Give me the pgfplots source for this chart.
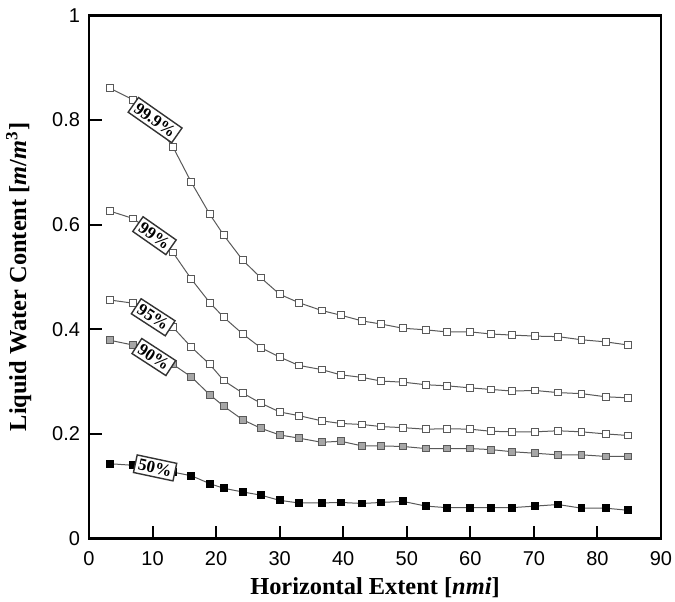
\documentclass[border=0pt]{standalone}
\usepackage{pgfplots}
\pgfplotsset{compat=1.18}
\usepackage{fontspec}
\setmainfont{Liberation Serif}
\newfontfamily\arialfont{Liberation Sans}
\tikzset{lbl/.style={draw=black!80, line width=0.7pt, fill=white, inner sep=1.6pt, font=\bfseries\fontsize{8.5}{9}\selectfont}}
\pgfplotstableread{
x     a     b     c     d     e
3.3   0.861 0.626 0.456 0.379 0.143
6.9   0.839 0.612 0.450 0.370 0.140
10.1  0.800 0.585 0.430 0.352 0.133
13.2  0.749 0.547 0.404 0.333 0.127
16.1  0.681 0.496 0.366 0.309 0.120
19.0  0.620 0.451 0.333 0.275 0.105
21.2  0.580 0.423 0.302 0.253 0.096
24.2  0.532 0.391 0.278 0.227 0.089
27.0  0.499 0.365 0.259 0.211 0.083
30.0  0.467 0.347 0.242 0.198 0.073
33.0  0.451 0.331 0.235 0.192 0.068
36.6  0.436 0.323 0.225 0.184 0.068
39.6  0.427 0.313 0.220 0.186 0.069
43.0  0.416 0.308 0.218 0.177 0.067
46.0  0.410 0.301 0.214 0.177 0.069
49.4  0.402 0.299 0.212 0.176 0.071
53.0  0.399 0.294 0.209 0.172 0.062
56.3  0.395 0.292 0.210 0.172 0.059
60.0  0.395 0.288 0.209 0.172 0.059
63.3  0.391 0.285 0.205 0.170 0.059
66.5  0.389 0.282 0.204 0.166 0.059
70.2  0.387 0.283 0.204 0.163 0.062
73.8  0.386 0.279 0.206 0.160 0.065
77.5  0.380 0.277 0.204 0.160 0.058
81.3  0.376 0.271 0.200 0.157 0.058
84.8  0.370 0.269 0.197 0.157 0.054
}\lwc
\begin{document}
\begin{tikzpicture}
\begin{axis}[
  set layers=standard,
  scale only axis,
  width=286pt, height=261.5pt,
  xmin=0, xmax=90, ymin=0, ymax=1,
  xtick={0,10,...,90},
  ytick={0,0.2,0.4,0.6,0.8,1},
  xtick pos=bottom, ytick pos=left,
  tick align=inside,
  major tick length=6.5pt,
  every tick/.style={line width=1pt, black},
  axis line style={line width=1.3pt},
  /pgf/number format/assume math mode=true,
  tick label style={font=\arialfont\fontsize{10}{12}\selectfont},
  xticklabel style={yshift=-3pt},
  yticklabel style={xshift=-1pt},
  xlabel={\textbf{Horizontal Extent [\textit{nmi}]}},
  ylabel={\textbf{Liquid Water Content [\textit{m}/\textit{m}\textsuperscript{3}]}},
  label style={font=\fontsize{12.2}{14}\selectfont},
  xlabel style={yshift=1pt},
  ylabel style={yshift=3.5pt},
  every axis plot/.append style={line width=0.5pt, black!65, mark=square*, mark size=1.7pt},
  clip=false,
]
\addplot[mark options={fill=white, draw=black!65}] table[x=x,y=a] {\lwc};
\addplot[mark options={fill=white, draw=black!65}] table[x=x,y=b] {\lwc};
\addplot[mark options={fill=white, draw=black!65}] table[x=x,y=c] {\lwc};
\addplot[mark options={fill=black!35, draw=black!65}] table[x=x,y=d] {\lwc};
\addplot[mark options={fill=black, draw=black}] table[x=x,y=e] {\lwc};
\begin{pgfonlayer}{axis foreground}
\node[lbl, rotate=-35] at (axis cs:10.4,0.800) {99.9\%};
\node[lbl, rotate=-35] at (axis cs:10.3,0.579) {99\%};
\node[lbl, rotate=-33] at (axis cs:10.1,0.423) {95\%};
\node[lbl, rotate=-33] at (axis cs:10.2,0.347) {90\%};
\node[lbl, rotate=-12] at (axis cs:10.4,0.135) {50\%};
\end{pgfonlayer}
\end{axis}
\pgfresetboundingbox
\path[use as bounding box] ([shift={(-44.5pt,-31.25pt)}]current axis.south west) rectangle ([shift={(7pt,7.75pt)}]current axis.north east);
\end{tikzpicture}
\end{document}
